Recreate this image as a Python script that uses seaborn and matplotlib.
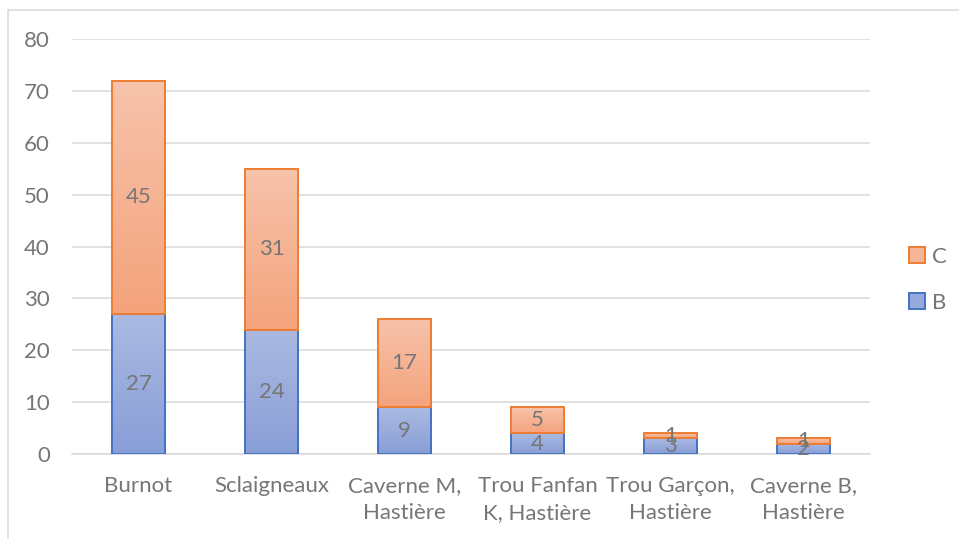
import numpy as np
import pandas as pd
import matplotlib
matplotlib.use("Agg")
import matplotlib.pyplot as plt
import seaborn as sns
from matplotlib.colors import LinearSegmentedColormap
from matplotlib.patches import Patch
from matplotlib.lines import Line2D

sites = ["Burnot", "Sclaigneaux", "Caverne M,\nHastière", "Trou Fanfan\nK, Hastière",
         "Trou Garçon,\nHastière", "Caverne B,\nHastière"]
b_vals = [27, 24, 9, 4, 3, 2]
c_vals = [45, 31, 17, 5, 1, 1]
y_ticks = [0, 10, 20, 30, 40, 50, 60, 70, 80]

df = pd.DataFrame({"site": sites, "B": b_vals, "C": c_vals})

sns.set_style("white")
plt.rcParams["font.family"] = ["Lato", "DejaVu Sans"]

grey = "#767676"
fs = 16
blue_edge = "#4472C4"
orange_edge = "#ED7D31"
blue_cmap = LinearSegmentedColormap.from_list("b", ["#899ED7", "#AABAE2"])
orange_cmap = LinearSegmentedColormap.from_list("o", ["#F4A37C", "#F7C3AB"])

fig = plt.figure(figsize=(9.59, 5.39), dpi=100)
ax = fig.add_axes([0.0751, 0.1577, 0.907 - 0.0751, 0.9276 - 0.1577])

# B segments via seaborn
sns.barplot(data=df, x="site", y="B", ax=ax, width=0.4, color=blue_edge,
            edgecolor=blue_edge, linewidth=1.4, zorder=3)
b_patches = list(ax.patches)
for p in b_patches:
    p.set_facecolor("none")
# C segments stacked on top
pos = np.arange(len(sites))
c_bars = ax.bar(pos, df["C"], bottom=df["B"], width=0.4, color="none",
                edgecolor=orange_edge, linewidth=1.4, zorder=4)

grad = np.linspace(0, 1, 256).reshape(-1, 1)
for patches, cmap, z in [(b_patches, blue_cmap, 2.5), (list(c_bars), orange_cmap, 3.5)]:
    for p in patches:
        x0, y0 = p.get_x(), p.get_y()
        w, h = p.get_width(), p.get_height()
        im = ax.imshow(grad, extent=[x0, x0 + w, y0, y0 + h], origin="lower",
                       aspect="auto", cmap=cmap, zorder=z)
        im.set_clip_path(p)

# data labels
for i in range(len(sites)):
    ax.text(i, b_vals[i] / 2, str(b_vals[i]), ha="center", va="center",
            color=grey, fontsize=fs, zorder=6)
    ax.text(i, b_vals[i] + c_vals[i] / 2, str(c_vals[i]), ha="center", va="center",
            color=grey, fontsize=fs, zorder=6)

ax.set_xlim(-0.5, len(sites) - 0.5)
ax.set_ylim(0, 80)
ax.set_yticks(y_ticks)
ax.set_xlabel("")
ax.set_ylabel("")
ax.yaxis.grid(True, color="#D9D9D9", linewidth=1.1, zorder=0)
ax.set_axisbelow(True)
for s in ["top", "right", "left"]:
    ax.spines[s].set_visible(False)
ax.spines["bottom"].set_color("#D9D9D9")
ax.spines["bottom"].set_linewidth(1.1)
ax.tick_params(axis="both", length=0, colors=grey, labelsize=fs)
ax.tick_params(axis="y", pad=16)
ax.tick_params(axis="x", pad=16)
for t in ax.get_xticklabels():
    t.set_linespacing(1.45)

# legend
handles = [Patch(facecolor="#F6B596", edgecolor=orange_edge, linewidth=1.4, label="C"),
           Patch(facecolor="#97A9DC", edgecolor=blue_edge, linewidth=1.4, label="B")]
fig.legend(handles=handles, loc="center left", bbox_to_anchor=(0.927, 0.481),
           frameon=False, fontsize=fs, labelcolor=grey, handlelength=0.7,
           handleheight=0.7, handletextpad=0.35, labelspacing=1.15)

# chart frame
fig.add_artist(Line2D([8 / 959, 8 / 959], [0, 1 - 10 / 539], transform=fig.transFigure,
                      color="#D9D9D9", linewidth=1.1))
fig.add_artist(Line2D([8 / 959, 1], [1 - 10 / 539, 1 - 10 / 539], transform=fig.transFigure,
                      color="#D9D9D9", linewidth=1.1))

fig.savefig("out.png", dpi=100)
